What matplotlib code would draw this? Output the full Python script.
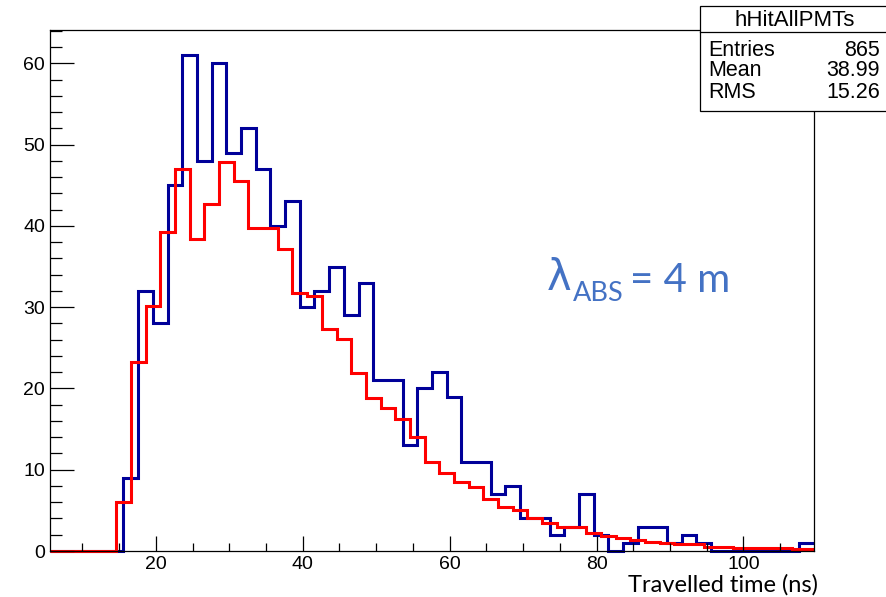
import numpy as np
import matplotlib.pyplot as plt
from matplotlib.patches import Rectangle
from matplotlib.lines import Line2D
from matplotlib.ticker import MultipleLocator

# histogram contents (bin width 2 ns)
bin_width = 2.0
blue_start = 5.6
red_start = 4.6
blue_counts = [0, 0, 0, 0, 0,
               9, 32, 28, 45, 61, 48, 60, 49, 52, 47,
               40, 43, 30, 32, 35, 29, 33, 21, 21, 13,
               20, 22, 19, 11, 11, 7, 8, 4, 4, 2,
               3, 7, 2, 0, 1, 3, 3, 1, 2, 1,
               0, 0, 0, 0, 0, 0, 1]
red_counts = [0, 0, 0, 0, 0,
              6, 23.2, 30.2, 39.3, 47, 38.4, 42.7, 47.8, 45.5, 39.8,
              39.8, 37.1, 31.8, 31.4, 27.3, 26.1, 21.9, 18.8, 17.55, 16.3,
              14.0, 10.9, 9.55, 8.5, 7.9, 6.35, 5.45, 5.1, 4.1, 3.4,
              3.0, 2.9, 2.2, 1.9, 1.65, 1.4, 1.15, 1.0, 0.8, 0.8,
              0.5, 0.5, 0.4, 0.4, 0.4, 0.4, 0.25, 0.25]

stats_title = "hHitAllPMTs"
stats_names = ["Entries", "Mean", "RMS"]
stats_values = ["865", "38.99", "15.26"]

xmin, xmax = 5.6, 109.6
ymin, ymax = 0, 64.1

W, H = 887, 597
fig = plt.figure(figsize=(W / 100, H / 100), dpi=100)


def fx(px):
    return px / W


def fy(py):
    return 1 - py / H


ax = fig.add_axes([fx(50), fy(551), fx(764), 521 / H])

blue_edges = blue_start + bin_width * np.arange(len(blue_counts) + 1)
red_edges = np.clip(red_start + bin_width * np.arange(len(red_counts) + 1), xmin, xmax)

ax.stairs(blue_counts, blue_edges, baseline=None, color="#000099", lw=2.2, clip_on=False)
ax.stairs(red_counts, red_edges, baseline=None, color="#ff0000", lw=2.2, clip_on=False)

ax.set_xlim(xmin, xmax)
ax.set_ylim(ymin, ymax)

for s in ax.spines.values():
    s.set_linewidth(0.9)

ax.xaxis.set_major_locator(MultipleLocator(20))
ax.xaxis.set_minor_locator(MultipleLocator(5))
ax.yaxis.set_major_locator(MultipleLocator(10))
ax.yaxis.set_minor_locator(MultipleLocator(2))
ax.tick_params(which="both", direction="in", top=False, right=False, width=0.9,
               labelsize=14, labelfontfamily="Liberation Sans", colors="black")
ax.tick_params(axis="y", which="major", length=17, pad=3.6)
ax.tick_params(axis="y", which="minor", length=8.6)
ax.tick_params(axis="x", which="major", length=11, pad=3.4)
ax.tick_params(axis="x", which="minor", length=5.6)

# x axis title
fig.text(fx(818), fy(592), "Travelled time (ns)", ha="right", va="baseline",
         fontsize=17, family="Lato", color="black")

# lambda annotation
lam_color = "#4472c4"
fig.text(fx(547), fy(290), "λ", ha="left", va="baseline", fontsize=30,
         family="DejaVu Sans", color=lam_color)
fig.text(fx(573), fy(301), "ABS", ha="left", va="baseline", fontsize=19.5,
         family="Lato", color=lam_color)
fig.text(fx(630), fy(292), "= 4 m", ha="left", va="baseline", fontsize=29,
         family="Lato", color=lam_color)

# stats box
fig.add_artist(Rectangle((fx(700), fy(111)), fx(W + 5 - 700), (111 - 6) / H,
                         transform=fig.transFigure, facecolor="white",
                         edgecolor="black", lw=0.9, clip_on=False))
fig.add_artist(Line2D([fx(700), fx(W + 5)], [fy(32), fy(32)],
                      transform=fig.transFigure, color="black", lw=0.9))
fig.text(fx(795), fy(20), stats_title, ha="center", va="center", fontsize=16,
         family="Liberation Sans")
for i, (name, val) in enumerate(zip(stats_names, stats_values)):
    yy = fy(50 + 21 * i)
    fig.text(fx(708), yy, name, ha="left", va="center", fontsize=15.5,
             family="Liberation Sans")
    fig.text(fx(880), yy, val, ha="right", va="center", fontsize=15.5,
             family="Liberation Sans")

fig.savefig("out.png", dpi=100)
